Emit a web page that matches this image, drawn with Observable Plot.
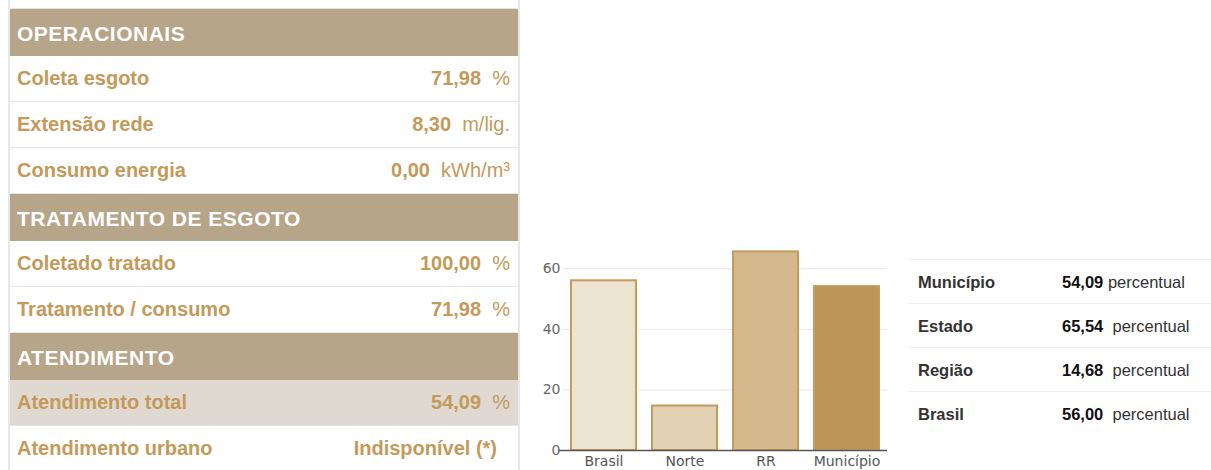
<!DOCTYPE html>
<html>
<head>
<meta charset="utf-8">
<script src="https://cdn.jsdelivr.net/npm/d3@7"></script>
<script src="https://cdn.jsdelivr.net/npm/@observablehq/plot@0.6"></script>
<style>
  html, body { margin: 0; padding: 0; background: #fff; }
  body { width: 1211px; height: 470px; overflow: hidden; position: relative; font-family: "Liberation Sans", Arial, sans-serif; }
  #left { position: absolute; left: 8px; top: 0; width: 508px; border-left: 2px solid #e8e8e8; border-right: 2px solid #e8e8e8; }
  #left .spacer { height: 8px; border-bottom: 1px solid #e4e4e4; }
  #left .head { height: 47px; line-height: 49px; background: #b6a589; color: #fff; font-weight: bold; font-size: 21px; letter-spacing: 0.5px; padding-left: 7px; box-sizing: border-box; }
  #left .row { height: 46px; border-bottom: 1px solid #e6e6e6; box-sizing: border-box; display: flex; justify-content: space-between; align-items: center; padding: 0 8px 0 7px; color: #c49a5b; font-weight: bold; font-size: 20px; }
  #left .row .u { font-weight: normal; }
  #left .row.hl { background: #dfd9d2; }
  #right { position: absolute; left: 908px; top: 259px; width: 303px; border-top: 1px solid #eeeeee; font-size: 16.5px; }
  #right .r { height: 44px; border-bottom: 1px solid #eeeeee; box-sizing: border-box; position: relative; }
  #right .r:last-child { border-bottom: none; }
  #right .lab { position: absolute; left: 10px; top: 13px; font-weight: bold; color: #333; }
  #right .val { position: absolute; left: 154px; top: 13px; color: #333; white-space: pre; }
  #right .val b { color: #111; }
  #chart { position: absolute; left: 525px; top: 240px; }
</style>
</head>
<body>
<div id="left"></div>
<div id="chart"></div>
<div id="right"></div>
<script>
// ---- Left table data ----
const sectionTitles = ["OPERACIONAIS", "TRATAMENTO DE ESGOTO", "ATENDIMENTO"];
const operLabels = ["Coleta esgoto", "Extensão rede", "Consumo energia"];
const operValues = ["71,98", "8,30", "0,00"];
const operUnits = ["%", "m/lig.", "kWh/m³"];
const tratLabels = ["Coletado tratado", "Tratamento / consumo"];
const tratValues = ["100,00", "71,98"];
const tratUnits = ["%", "%"];
const atendLabels = ["Atendimento total", "Atendimento urbano"];
const atendValues = ["54,09", "Indisponível (*)"];
const atendUnits = ["%", ""];
const highlightedRow = "Atendimento total";

// ---- Chart data ----
const categories = ["Brasil", "Norte", "RR", "Município"];
const values = [56.00, 14.68, 65.54, 54.09];
const barColors = ["#ede3d1", "#e2d1b3", "#d5b88c", "#be9558"];
const yTicks = [0, 20, 40, 60];

// ---- Right table data ----
const compLabels = ["Município", "Estado", "Região", "Brasil"];
const compValues = ["54,09", "65,54", "14,68", "56,00"];
const compUnit = "percentual";

// Build left table
const left = document.getElementById("left");
const spacer = document.createElement("div"); spacer.className = "spacer"; left.appendChild(spacer);
const groups = [
  [operLabels, operValues, operUnits],
  [tratLabels, tratValues, tratUnits],
  [atendLabels, atendValues, atendUnits]
];
groups.forEach(([labs, vals, units], gi) => {
  const h = document.createElement("div"); h.className = "head"; h.textContent = sectionTitles[gi]; left.appendChild(h);
  labs.forEach((lab, i) => {
    const r = document.createElement("div");
    r.className = "row" + (lab === highlightedRow ? " hl" : "");
    const a = document.createElement("span"); a.textContent = lab;
    const b = document.createElement("span");
    b.style.whiteSpace = "pre";
    b.appendChild(document.createTextNode(vals[i]));
    if (units[i]) {
      const u = document.createElement("span"); u.className = "u"; u.textContent = "  " + units[i];
      b.appendChild(u);
    } else {
      b.style.marginRight = "13px";
    }
    r.appendChild(a); r.appendChild(b); left.appendChild(r);
  });
});

// Build right table
const right = document.getElementById("right");
compLabels.forEach((lab, i) => {
  const r = document.createElement("div"); r.className = "r";
  const a = document.createElement("span"); a.className = "lab"; a.textContent = lab;
  const b = document.createElement("span"); b.className = "val";
  const bb = document.createElement("b"); bb.textContent = compValues[i];
  b.appendChild(bb);
  b.appendChild(document.createTextNode((i === 0 ? " " : "  ") + compUnit));
  r.appendChild(a); r.appendChild(b); right.appendChild(r);
});

// Chart
const data = categories.map((c, i) => ({cat: c, value: values[i]}));
const chart = Plot.plot({
  width: 380,
  height: 230,
  marginLeft: 38,
  marginRight: 18,
  marginTop: 10,
  marginBottom: 20,
  style: {fontFamily: "DejaVu Sans, Verdana, sans-serif", fontSize: "14px", color: "#555", background: "transparent"},
  x: {domain: categories, paddingInner: 0.2, paddingOuter: 0.1, label: null},
  y: {domain: [0, 66], label: null},
  color: {domain: categories, range: barColors},
  marks: [
    Plot.gridY(yTicks.slice(1), {stroke: "#e6e6e6", strokeOpacity: 1}),
    Plot.barY(data, {x: "cat", y: "value", fill: "cat", stroke: "#c39b5e", strokeWidth: 2}),
    Plot.ruleY([0], {stroke: "#555", strokeWidth: 1.5, insetLeft: -5}),
    Plot.axisY(yTicks, {tickSize: 0, tickPadding: 3, fill: "#666", label: null}),
    Plot.axisX({tickSize: 0, tickPadding: 6, fill: "#555", label: null})
  ]
});
document.getElementById("chart").appendChild(chart);
</script>
</body>
</html>
